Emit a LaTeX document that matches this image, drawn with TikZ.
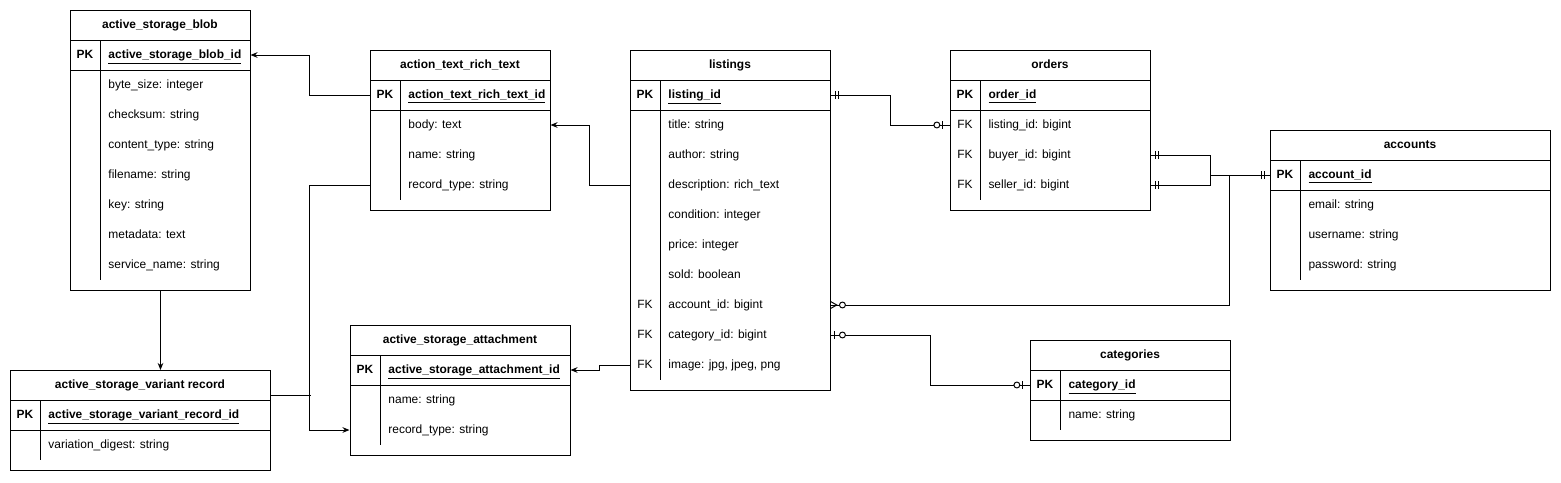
\documentclass[tikz,border=0pt]{standalone}
\usepackage{fontspec}
\setmainfont{Liberation Sans}
\usetikzlibrary{arrows.meta,calc,decorations.markings}
\def\px{0.025cm}
\newcommand{\erfont}{\fontsize{8.5}{10}\selectfont}
\tikzstyle{tablebox} = [rectangle, draw=black, anchor=north west, inner sep=0pt]
\tikzstyle{rowbox} = [rectangle, minimum height=30*\px, inner sep=0pt]
\tikzstyle{titletext} = [font=\erfont\bfseries, text height=6.6pt, text depth=1.2pt]
\tikzstyle{keytext} = [font=\erfont, text height=6.6pt, text depth=1.2pt]
\tikzstyle{fieldtext} = [font=\erfont, anchor=west, inner sep=0pt, text height=6.6pt, text depth=1.2pt]
\tikzstyle{arrow} = [-{Stealth[length=5pt,width=4pt]}]
\tikzset{
  one start/.style={postaction={decorate,decoration={markings,mark=at position 0 with
    {\draw (3.5pt,-2.8pt) -- (3.5pt,2.8pt) (5.7pt,-2.8pt) -- (5.7pt,2.8pt);}}}},
  one end/.style={postaction={decorate,decoration={markings,mark=at position 1 with
    {\draw (-3.5pt,-2.8pt) -- (-3.5pt,2.8pt) (-5.7pt,-2.8pt) -- (-5.7pt,2.8pt);}}}},
  zeroone start/.style={postaction={decorate,decoration={markings,mark=at position 0 with
    {\draw (2.8pt,-2.8pt) -- (2.8pt,2.8pt); \draw[fill=white] (8.5pt,0) circle (2.1pt);}}}},
  zeroone end/.style={postaction={decorate,decoration={markings,mark=at position 1 with
    {\draw (-5pt,-2.8pt) -- (-5pt,2.8pt); \draw[fill=white] (-9pt,0) circle (2.1pt);}}}},
  zeromany start/.style={postaction={decorate,decoration={markings,mark=at position 0 with
    {\draw (0,2.5pt) -- (4.5pt,0) -- (0,-2.5pt); \draw[fill=white] (8.5pt,0) circle (2.1pt);}}}}
}

% #1 name, #2 left, #3 top, #4 width, #5 bottom, #6 title, #7 pk, #8 key/field rows
\newcommand{\ertable}[8]{%
  \node[tablebox, minimum width=#4*\px, minimum height=(#5-#3)*\px] (#1) at (#2,#3) {};
  \node[titletext] (#1-title) at (#2+#4/2,#3+15) {#6};
  \draw (#2,#3+30) -- ++(#4,0) (#2,#3+60) -- ++(#4,0);
  \draw (#2+30,#3+30) -- (#2+30,#5-10);
  \node[rowbox, minimum width=#4*\px] (#1-pk) at (#2+#4/2,#3+45) {};
  \node[keytext, font=\erfont\bfseries] at (#2+15,#3+45) {PK};
  \node[fieldtext, font=\erfont\bfseries] at (#2+38,#3+45) {\underline{#7}};
  \foreach \k/\t [count=\i] in {#8} {
    \node[rowbox, minimum width=#4*\px] (#1-\i) at (#2+#4/2,#3+45+30*\i) {};
    \node[keytext] at (#2+15,#3+45+30*\i) {\k};
    \node[fieldtext] at (#2+38,#3+45+30*\i) {\t};
  }
}

\begin{document}
\begin{tikzpicture}[x=\px, y=-\px, line width=0.7pt]
\useasboundingbox (0,0) rectangle (1561,482);

\ertable{blob}{70}{10}{180}{290}{active\_storage\_blob}{active\_storage\_blob\_id}
  {{}/{byte\_size: integer}, {}/{checksum: string}, {}/{content\_type: string},
   {}/{filename: string}, {}/{key: string}, {}/{metadata: text}, {}/{service\_name: string}}
\ertable{atrt}{370}{50}{180}{210}{action\_text\_rich\_text}{action\_text\_rich\_text\_id}
  {{}/{body: text}, {}/{name: string}, {}/{record\_type: string}}
\ertable{listings}{630}{50}{200}{390}{listings}{listing\_id}
  {{}/{title: string}, {}/{author: string}, {}/{description: rich\_text},
   {}/{condition: integer}, {}/{price: integer}, {}/{sold: boolean},
   FK/{account\_id: bigint}, FK/{category\_id: bigint}, FK/{image: jpg, jpeg, png}}
\ertable{orders}{950}{50}{200}{210}{orders}{order\_id}
  {FK/{listing\_id: bigint}, FK/{buyer\_id: bigint}, FK/{seller\_id: bigint}}
\ertable{accounts}{1270}{130}{280}{290}{accounts}{account\_id}
  {{}/{email: string}, {}/{username: string}, {}/{password: string}}
\ertable{categories}{1030}{340}{200}{440}{categories}{category\_id}
  {{}/{name: string}}
\ertable{attachment}{350}{325}{220}{455}{active\_storage\_attachment}{active\_storage\_attachment\_id}
  {{}/{name: string}, {}/{record\_type: string}}
\ertable{variant}{10}{370}{260}{470}{active\_storage\_variant record}{active\_storage\_variant\_record\_id}
  {{}/{variation\_digest: string}}

\coordinate (acc-join) at ($(accounts-pk.west)+(-40,0)$);

\draw [arrow] (atrt-pk.west) -- ++(-60,0) |- (blob-pk.east);
\draw [arrow] (listings-3.west) -- ++(-40,0) |- (atrt-1.east);
\draw [arrow] (listings-9.west) -- ++(-30,0) -- ++(0,5) -- (attachment-pk.east);
\draw [arrow] (blob.south) -- (blob.south |- variant.north);
\draw [arrow] (atrt-3.west) -- ++(-60,0) |- (attachment-2.west);
\draw (variant.north east) ++(0,25) -- ++(40,0);
%
\draw [one start, zeroone end] (listings-pk.east) -- ++(60,0) |- (orders-1.west);
\draw [one start, one end] (orders-2.east) -- ++(60,0) |- (accounts-pk.west);
\draw [one start] (orders-3.east) -- ++(60,0) |- (accounts-pk.west);
\draw [zeromany start] (listings-7.east) -| (acc-join);
\draw [zeroone start, zeroone end] (listings-8.east) -- ++(100,0) |- (categories-pk.west);

\end{tikzpicture}
\end{document}
